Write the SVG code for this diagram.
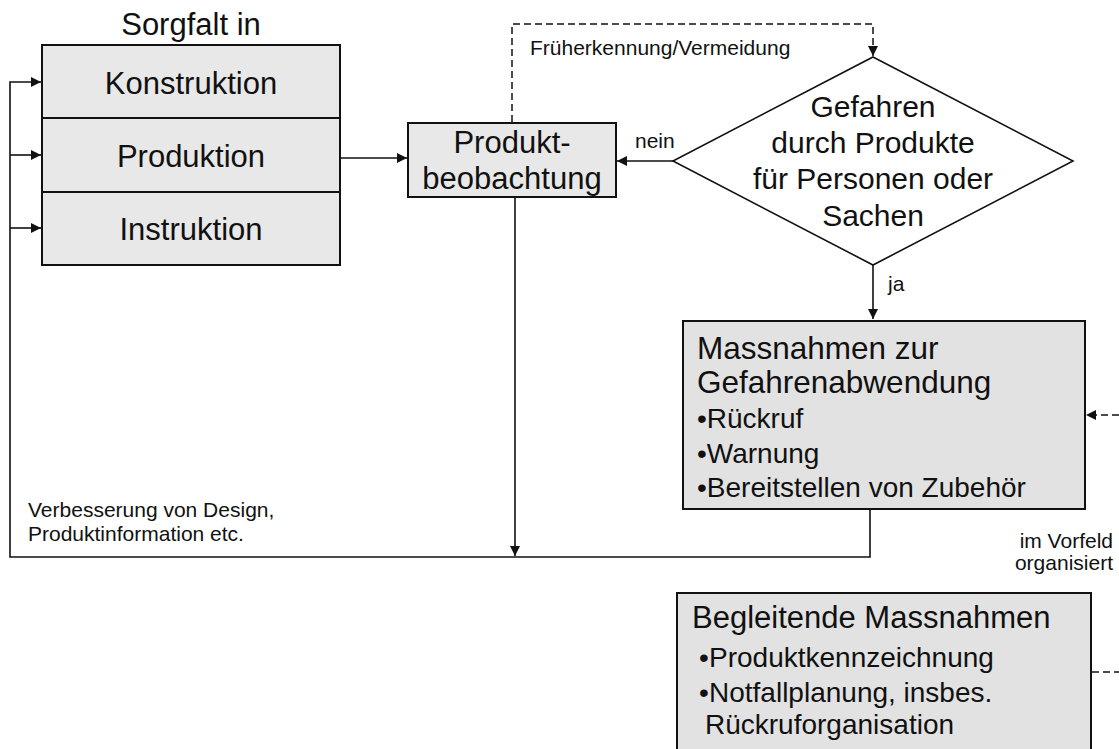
<svg xmlns="http://www.w3.org/2000/svg" width="1119" height="749" viewBox="0 0 1119 749">
  <style>
    .box { fill: #e2e2e2; stroke: #111; stroke-width: 2; }
    .box-light { fill: #e8e8e8; stroke: #111; stroke-width: 2; }
    .diamond { fill: #fff; stroke: #111; stroke-width: 1.6; }
    .big { font-family: "Liberation Sans", Arial, sans-serif; font-size: 31px; fill: #111; }
    .title { font-family: "Liberation Sans", Arial, sans-serif; font-size: 31.5px; fill: #111; }
    .dia { font-family: "Liberation Sans", Arial, sans-serif; font-size: 30px; fill: #111; }
    .mid { font-family: "Liberation Sans", Arial, sans-serif; font-size: 28px; fill: #111; }
    .small { font-family: "Liberation Sans", Arial, sans-serif; font-size: 21px; fill: #111; }
    .line { fill: none; stroke: #111; stroke-width: 1.6; }
    .dash { fill: none; stroke: #111; stroke-width: 1.5; stroke-dasharray: 7 4; }
  </style>
  <defs>
    <marker id="arrow" viewBox="0 0 10 10" refX="10" refY="5" markerWidth="11" markerHeight="10" markerUnits="userSpaceOnUse" orient="auto">
      <path d="M0,0 L10,5 L0,10 Z" fill="#111"/>
    </marker>
  </defs>

  <rect width="1119" height="749" fill="#fff"/>

  <!-- Sorgfalt stack -->
  <g id="sorgfalt">
    <text class="big" x="191" y="35" text-anchor="middle">Sorgfalt in</text>
  </g>
  <g id="konstruktion">
    <rect class="box-light" x="42" y="45" width="298" height="73"/>
    <text class="big" x="191" y="94" text-anchor="middle">Konstruktion</text>
  </g>
  <g id="produktion">
    <rect class="box-light" x="42" y="118" width="298" height="74"/>
    <text class="big" x="191" y="167" text-anchor="middle">Produktion</text>
  </g>
  <g id="instruktion">
    <rect class="box-light" x="42" y="192" width="298" height="73"/>
    <text class="big" x="191" y="240" text-anchor="middle">Instruktion</text>
  </g>

  <!-- Produktbeobachtung -->
  <g id="produktbeobachtung">
    <rect class="box-light" x="408" y="123" width="208" height="74"/>
    <text class="big" x="512" y="153" text-anchor="middle">Produkt-</text>
    <text class="big" x="512" y="189" text-anchor="middle">beobachtung</text>
  </g>

  <!-- Decision -->
  <g id="gefahren">
    <polygon class="diamond" points="873,57 1073,161 873,265 673,161"/>
    <text class="dia" x="873" y="117" text-anchor="middle">Gefahren</text>
    <text class="dia" x="873" y="153" text-anchor="middle">durch Produkte</text>
    <text class="dia" x="873" y="189" text-anchor="middle">für Personen oder</text>
    <text class="dia" x="873" y="226" text-anchor="middle">Sachen</text>
  </g>

  <!-- Massnahmen zur Gefahrenabwendung -->
  <g id="massnahmen">
    <rect class="box" x="683" y="321" width="402" height="188"/>
    <text class="title" x="697" y="359">Massnahmen zur</text>
    <text class="title" x="697" y="393">Gefahrenabwendung</text>
    <text class="mid" x="697" y="428">•Rückruf</text>
    <text class="mid" x="697" y="463">•Warnung</text>
    <text class="mid" x="697" y="497">•Bereitstellen von Zubehör</text>
  </g>

  <!-- Begleitende Massnahmen -->
  <g id="begleitende">
    <rect class="box" x="677" y="593" width="414" height="170"/>
    <text class="big" x="692" y="628">Begleitende Massnahmen</text>
    <text class="mid" x="699" y="667">•</text>
    <text class="mid" x="709" y="667">Produktkennzeichnung</text>
    <text class="mid" x="699" y="702">•</text>
    <text class="mid" x="709" y="702">Notfallplanung, insbes.</text>
    <text class="mid" x="705" y="734">Rückruforganisation</text>
  </g>

  <!-- Connectors -->
  <g id="connectors">
    <!-- Produktion to Produktbeobachtung -->
    <line class="line" x1="341" y1="158" x2="407" y2="158" marker-end="url(#arrow)"/>
    <!-- nein -->
    <line class="line" x1="673" y1="161" x2="617" y2="161" marker-end="url(#arrow)"/>
    <text class="small" x="635" y="148">nein</text>
    <!-- ja -->
    <line class="line" x1="873" y1="265" x2="873" y2="319" marker-end="url(#arrow)"/>
    <text class="small" x="888" y="291">ja</text>
    <!-- Früherkennung/Vermeidung -->
    <polyline class="dash" points="512,122 512,24 873,24 873,56" marker-end="url(#arrow)"/>
    <text class="small" x="530" y="55">Früherkennung/Vermeidung</text>
    <!-- Produktbeobachtung down to feedback line -->
    <line class="line" x1="515" y1="198" x2="515" y2="556" marker-end="url(#arrow)"/>
    <!-- Feedback from Massnahmen to the Sorgfalt stack -->
    <polyline class="line" points="870,510 870,557 10,557 10,82 41,82" marker-end="url(#arrow)"/>
    <line class="line" x1="10" y1="155" x2="41" y2="155" marker-end="url(#arrow)"/>
    <line class="line" x1="10" y1="228" x2="41" y2="228" marker-end="url(#arrow)"/>
    <text class="small" x="28" y="517">Verbesserung von Design,</text>
    <text class="small" x="28" y="541">Produktinformation etc.</text>
    <!-- im Vorfeld organisiert -->
    <line class="dash" x1="1119" y1="415" x2="1086" y2="415" marker-end="url(#arrow)"/>
    <line class="dash" x1="1092" y1="672" x2="1119" y2="672"/>
    <text class="small" x="1113" y="548" text-anchor="end">im Vorfeld</text>
    <text class="small" x="1113" y="570" text-anchor="end">organisiert</text>
  </g>
</svg>
